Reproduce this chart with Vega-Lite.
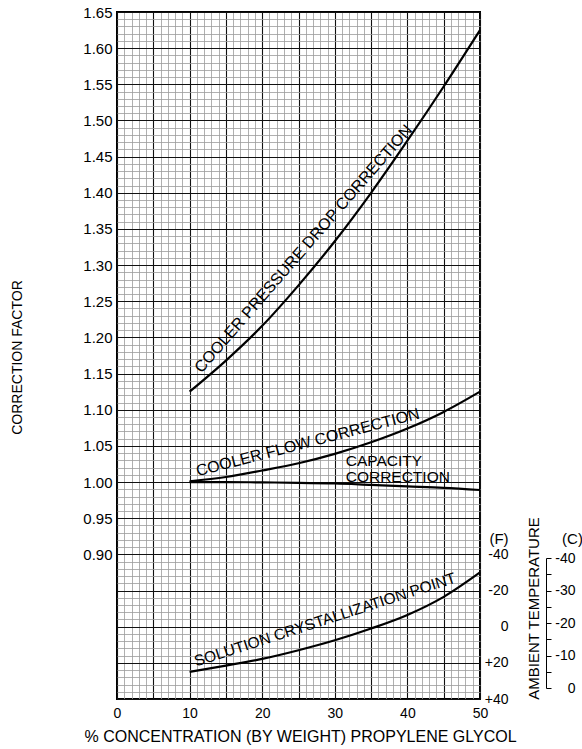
{
  "$schema": "https://vega.github.io/schema/vega-lite/v6.json",
  "width": 363,
  "height": 687,
  "autosize": "none",
  "padding": {"left": 117, "top": 12, "right": 102, "bottom": 50},
  "config": {
    "font": "Liberation Sans",
    "view": {"stroke": "black", "strokeWidth": 2},
    "axis": {"labelColor": "black", "titleColor": "black", "labelFont": "Liberation Sans", "titleFont": "Liberation Sans", "titleFontWeight": "normal", "gridOpacity": 1, "labelFlush": false, "labelOverlap": false}
  },
  "datasets": {
    "curves": [
      {"series": "pressure", "x": 10, "y": 1.125},
      {"series": "pressure", "x": 15, "y": 1.168},
      {"series": "pressure", "x": 20, "y": 1.216},
      {"series": "pressure", "x": 25, "y": 1.272},
      {"series": "pressure", "x": 30, "y": 1.333},
      {"series": "pressure", "x": 35, "y": 1.4},
      {"series": "pressure", "x": 40, "y": 1.472},
      {"series": "pressure", "x": 45, "y": 1.547},
      {"series": "pressure", "x": 50, "y": 1.625},
      {"series": "flow", "x": 10, "y": 1.001},
      {"series": "flow", "x": 15, "y": 1.007},
      {"series": "flow", "x": 20, "y": 1.016},
      {"series": "flow", "x": 25, "y": 1.026},
      {"series": "flow", "x": 30, "y": 1.039},
      {"series": "flow", "x": 35, "y": 1.055},
      {"series": "flow", "x": 40, "y": 1.074},
      {"series": "flow", "x": 45, "y": 1.097},
      {"series": "flow", "x": 50, "y": 1.125},
      {"series": "capacity", "x": 10, "y": 1.0},
      {"series": "capacity", "x": 15, "y": 1.0},
      {"series": "capacity", "x": 20, "y": 0.9995},
      {"series": "capacity", "x": 25, "y": 0.999},
      {"series": "capacity", "x": 30, "y": 0.998},
      {"series": "capacity", "x": 35, "y": 0.996},
      {"series": "capacity", "x": 40, "y": 0.994},
      {"series": "capacity", "x": 45, "y": 0.992},
      {"series": "capacity", "x": 50, "y": 0.989}
    ],
    "crystal": [
      {"x": 10, "F": 25},
      {"x": 15, "F": 21.5},
      {"x": 20, "F": 17.8},
      {"x": 25, "F": 13},
      {"x": 30, "F": 7.5},
      {"x": 35, "F": 1},
      {"x": 40, "F": -6.5},
      {"x": 45, "F": -16.5},
      {"x": 50, "F": -30}
    ]
  },
  "layer": [
    {
      "data": {"name": "curves"},
      "mark": {"type": "point", "opacity": 0},
      "encoding": {
        "x": {"field": "x", "type": "quantitative", "scale": {"domain": [0, 50], "nice": false, "zero": false},
          "axis": {"orient": "bottom", "values": [1,2,3,4,6,7,8,9,11,12,13,14,16,17,18,19,21,22,23,24,26,27,28,29,31,32,33,34,36,37,38,39,41,42,43,44,46,47,48,49],
            "grid": true, "gridColor": "#9c9c9c", "gridWidth": 0.8, "labels": false, "ticks": false, "domain": false,
            "title": "AMBIENT TEMPERATURE", "titleAngle": 270, "titleX": 416, "titleY": -91, "titleAlign": "center", "titleBaseline": "middle", "titleFontSize": 15}},
        "y": {"field": "y", "type": "quantitative", "scale": {"domain": [0.7, 1.65], "nice": false, "zero": false},
          "axis": {"orient": "left", "values": [0.71,0.72,0.73,0.74,0.76,0.77,0.78,0.79,0.81,0.82,0.83,0.84,0.86,0.87,0.88,0.89,0.91,0.92,0.93,0.94,0.96,0.97,0.98,0.99,1.01,1.02,1.03,1.04,1.06,1.07,1.08,1.09,1.11,1.12,1.13,1.14,1.16,1.17,1.18,1.19,1.21,1.22,1.23,1.24,1.26,1.27,1.28,1.29,1.31,1.32,1.33,1.34,1.36,1.37,1.38,1.39,1.41,1.42,1.43,1.44,1.46,1.47,1.48,1.49,1.51,1.52,1.53,1.54,1.56,1.57,1.58,1.59,1.61,1.62,1.63,1.64],
            "grid": true, "gridColor": "#9c9c9c", "gridWidth": 0.8, "labels": false, "ticks": false, "domain": false, "title": null}}
      }
    },
    {
      "data": {"name": "curves"},
      "mark": {"type": "line", "stroke": "black", "strokeWidth": 2.2, "interpolate": "monotone"},
      "encoding": {
        "x": {"field": "x", "type": "quantitative", "scale": {"domain": [0, 50], "nice": false, "zero": false},
          "axis": {"orient": "bottom", "values": [0,5,10,15,20,25,30,35,40,45,50], "labelExpr": "datum.value % 10 === 0 ? datum.label : ''",
            "grid": true, "gridColor": "#111111", "gridWidth": 1.1, "ticks": false, "domain": false, "labelPadding": 7, "labelFontSize": 14,
            "title": "% CONCENTRATION (BY WEIGHT) PROPYLENE GLYCOL", "titleFontSize": 16, "titleX": 183, "titleY": 37, "titleAlign": "center", "titleBaseline": "middle"}},
        "y": {"field": "y", "type": "quantitative", "scale": {"domain": [0.7, 1.65], "nice": false, "zero": false},
          "axis": {"orient": "left", "values": [0.7,0.75,0.8,0.85,0.9,0.95,1.0,1.05,1.1,1.15,1.2,1.25,1.3,1.35,1.4,1.45,1.5,1.55,1.6,1.65],
            "format": ".2f", "labelExpr": "datum.value > 0.89 ? datum.label : ''",
            "grid": true, "gridColor": "#111111", "gridWidth": 1.1, "ticks": false, "domain": false, "labelPadding": 5, "labelFontSize": 15,
            "title": "CORRECTION FACTOR", "titleFontSize": 14, "titleAngle": 270, "titleX": -100, "titleY": 345, "titleAlign": "center", "titleBaseline": "middle"}},
        "detail": {"field": "series"}
      }
    },
    {
      "data": {"values": [{"label": "COOLER PRESSURE DROP CORRECTION", "x": 26.2, "y": 1.318}]},
      "mark": {"type": "text", "angle": -49, "align": "center", "baseline": "alphabetic", "fontSize": 16, "color": "black", "font": "Liberation Sans"},
      "encoding": {
        "x": {"field": "x", "type": "quantitative", "scale": {"domain": [0, 50], "nice": false, "zero": false}, "axis": null},
        "y": {"field": "y", "type": "quantitative", "scale": {"domain": [0.7, 1.65], "nice": false, "zero": false}, "axis": null},
        "text": {"field": "label"}
      }
    },
    {
      "data": {"values": [{"label": "COOLER FLOW CORRECTION", "x": 26.45, "y": 1.048}]},
      "mark": {"type": "text", "angle": -14.6, "align": "center", "baseline": "alphabetic", "fontSize": 16, "color": "black", "font": "Liberation Sans"},
      "encoding": {
        "x": {"field": "x", "type": "quantitative", "scale": {"domain": [0, 50], "nice": false, "zero": false}, "axis": null},
        "y": {"field": "y", "type": "quantitative", "scale": {"domain": [0.7, 1.65], "nice": false, "zero": false}, "axis": null},
        "text": {"field": "label"}
      }
    },
    {
      "data": {"values": [{"label": "CAPACITY\nCORRECTION", "x": 31.5, "y": 1.029}]},
      "mark": {"type": "text", "align": "left", "baseline": "middle", "lineBreak": "\n", "lineHeight": 15.5, "fontSize": 15.5, "color": "black", "font": "Liberation Sans"},
      "encoding": {
        "x": {"field": "x", "type": "quantitative", "scale": {"domain": [0, 50], "nice": false, "zero": false}, "axis": null},
        "y": {"field": "y", "type": "quantitative", "scale": {"domain": [0.7, 1.65], "nice": false, "zero": false}, "axis": null},
        "text": {"field": "label"}
      }
    },
    {
      "data": {"name": "crystal"},
      "mark": {"type": "line", "stroke": "black", "strokeWidth": 2.2, "interpolate": "monotone"},
      "encoding": {
        "x": {"field": "x", "type": "quantitative", "scale": {"domain": [0, 50], "nice": false, "zero": false}, "axis": null},
        "y": {"field": "F", "type": "quantitative", "scale": {"domain": [-40, 40], "range": [542.4, 687], "nice": false, "zero": false},
          "axis": {"orient": "right", "values": [-40, -20, 0, 20, 40], "labelExpr": "datum.value > 0 ? '+' + datum.value : '' + datum.value",
            "grid": false, "ticks": false, "tickSize": 0, "domain": false, "labelAlign": "right", "labelBaseline": "middle", "labelPadding": 28, "labelFontSize": 14,
            "title": "(F)", "titleAngle": 0, "titleX": 18.5, "titleY": 526.5, "titleAlign": "center", "titleBaseline": "middle", "titleFontSize": 15}}
      }
    },
    {
      "data": {"values": [{"label": "SOLUTION CRYSTALLIZATION POINT", "x": 28.86, "F": -1.2}]},
      "mark": {"type": "text", "angle": -17.9, "align": "center", "baseline": "alphabetic", "fontSize": 15.5, "color": "black", "font": "Liberation Sans"},
      "encoding": {
        "x": {"field": "x", "type": "quantitative", "scale": {"domain": [0, 50], "nice": false, "zero": false}, "axis": null},
        "y": {"field": "F", "type": "quantitative", "scale": {"domain": [-40, 40], "range": [542.4, 687], "nice": false, "zero": false}, "axis": null},
        "text": {"field": "label"}
      }
    },
    {
      "data": {"name": "crystal"},
      "mark": {"type": "point", "opacity": 0},
      "encoding": {
        "x": {"field": "x", "type": "quantitative", "scale": {"domain": [0, 50], "nice": false, "zero": false}, "axis": null},
        "y": {"field": "F", "type": "quantitative", "scale": {"domain": [-40, 0], "range": [546, 676], "nice": false, "zero": false},
          "axis": {"orient": "right", "offset": 66, "values": [-40, -35, -30, -25, -20, -15, -10, -5, 0], "labelExpr": "datum.value % 10 === 0 ? '' + datum.value : ''",
            "grid": false, "ticks": true, "tickSize": 5, "tickColor": "black", "tickWidth": 1, "domain": true, "domainColor": "black", "domainWidth": 1,
            "labelAlign": "right", "labelBaseline": "middle", "labelPadding": 24, "labelFontSize": 14,
            "title": "(C)", "titleAngle": 0, "titleX": 26, "titleY": 526.5, "titleAlign": "center", "titleBaseline": "middle", "titleFontSize": 15}}
      }
    }
  ],
  "resolve": {"scale": {"y": "independent"}, "axis": {"x": "independent", "y": "independent"}}
}
